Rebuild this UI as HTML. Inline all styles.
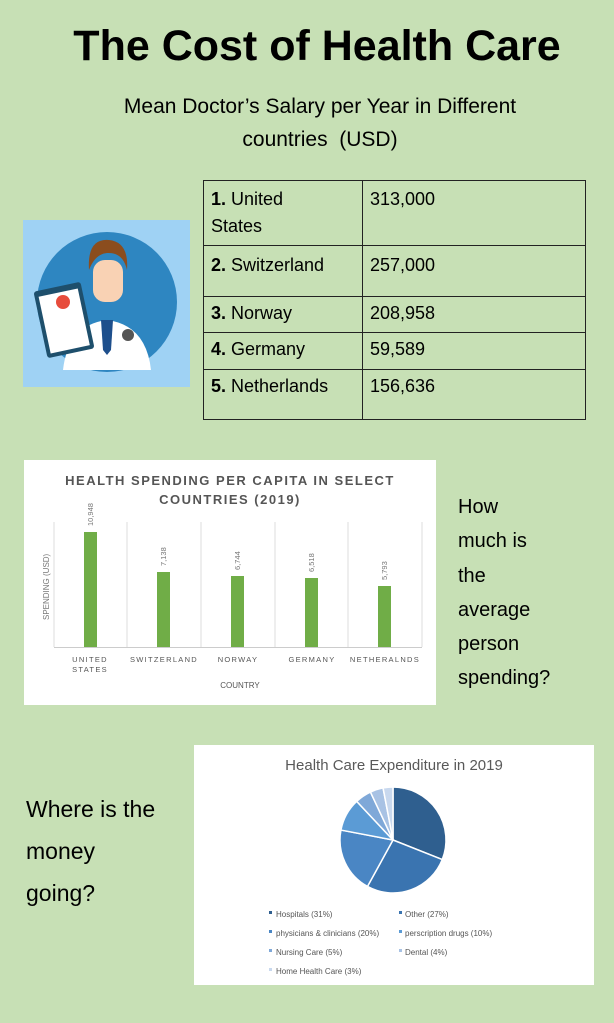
<!DOCTYPE html>
<html><head><meta charset="utf-8"><style>
body{margin:0;width:614px;height:1023px;background:#c7e0b5;position:relative;overflow:hidden;font-family:"Liberation Sans","DejaVu Sans",sans-serif;color:#000}
.abs{position:absolute}
table{border-collapse:collapse;table-layout:fixed}
td{border:1.3px solid #222;font-size:18px;vertical-align:top;padding:5px 7px;line-height:27px;overflow:hidden}
</style></head><body>
<div class="abs" style="left:0;width:634px;top:22px;text-align:center;font-size:43px;font-weight:bold;">The Cost of Health Care</div>
<div class="abs" style="left:70px;width:500px;top:90px;text-align:center;font-size:21px;line-height:33px">Mean Doctor’s Salary per Year in Different<br>countries&nbsp; (USD)</div>
<table class="abs" style="left:203px;top:180px;width:383px">
<col style="width:159px"><col>
<tr style="height:64px"><td><b>1.</b> United<br>States</td><td>313,000</td></tr>
<tr style="height:51px"><td style="padding-top:6px"><b>2.</b> Switzerland</td><td style="padding-top:6px">257,000</td></tr>
<tr style="height:36px"><td style="padding-top:3px"><b>3.</b> Norway</td><td style="padding-top:3px">208,958</td></tr>
<tr style="height:37px"><td style="padding-top:3px"><b>4.</b> Germany</td><td style="padding-top:3px">59,589</td></tr>
<tr style="height:50px"><td style="padding-top:3px"><b>5.</b> Netherlands</td><td style="padding-top:3px">156,636</td></tr>
</table>
<svg class="abs" style="left:23px;top:220px" width="167" height="167">
<rect width="167" height="167" fill="#9fd2f4"/>
<circle cx="84" cy="82" r="70" fill="#2e86c1"/>
<path d="M40 150 Q45 105 84 100 Q123 105 128 150 Z" fill="#fff"/>
<path d="M78 100 L90 100 L88 130 L84 135 L80 130 Z" fill="#1e4f8c"/>
<rect x="70" y="40" width="30" height="42" rx="12" fill="#f9d2b4"/>
<path d="M66 50 Q64 18 86 20 Q106 22 104 50 Q100 32 84 33 Q72 34 66 50 Z" fill="#8b4d1e"/>
<rect x="17" y="66" width="48" height="68" rx="3" fill="#1e4f6c" transform="rotate(-12 41 100)"/>
<rect x="21" y="72" width="40" height="58" fill="#fff" transform="rotate(-12 41 100)"/>
<circle cx="40" cy="82" r="7" fill="#e74c3c"/>
<circle cx="105" cy="115" r="6" fill="#555"/>
</svg>
<svg class="abs" style="left:24px;top:460px" width="412" height="245" font-family="Liberation Sans,sans-serif">
<rect width="412" height="245" fill="#fff"/>
<text x="206" y="25" text-anchor="middle" font-size="13" font-weight="bold" fill="#555" letter-spacing="1.5">HEALTH SPENDING PER CAPITA IN SELECT</text>
<text x="206" y="44" text-anchor="middle" font-size="13" font-weight="bold" fill="#555" letter-spacing="1.5">COUNTRIES (2019)</text>
<g stroke="#ddd" stroke-width="1">
<line x1="30" y1="62" x2="30" y2="187"/><line x1="103" y1="62" x2="103" y2="187"/><line x1="177" y1="62" x2="177" y2="187"/><line x1="251" y1="62" x2="251" y2="187"/><line x1="324" y1="62" x2="324" y2="187"/><line x1="398" y1="62" x2="398" y2="187"/>
<line x1="30" y1="187.5" x2="398" y2="187.5" stroke="#ccc"/></g>
<g fill="#70ad47">
<rect x="60" y="72" width="13" height="115"/><rect x="133" y="112" width="13" height="75"/><rect x="207" y="116" width="13" height="71"/><rect x="281" y="118" width="13" height="69"/><rect x="354" y="126" width="13" height="61"/></g>
<g font-size="7.5" fill="#777">
<text transform="translate(69,66) rotate(-90)">10,948</text>
<text transform="translate(142,106) rotate(-90)">7,138</text>
<text transform="translate(216,110) rotate(-90)">6,744</text>
<text transform="translate(290,112) rotate(-90)">6,518</text>
<text transform="translate(363,120) rotate(-90)">5,793</text>
<text transform="translate(25,160) rotate(-90)" font-size="8">SPENDING (USD)</text>
</g>
<g font-size="7.5" fill="#555" text-anchor="middle" letter-spacing="1.3">
<text x="66" y="202">UNITED</text><text x="66" y="212">STATES</text>
<text x="140" y="202">SWITZERLAND</text><text x="214" y="202">NORWAY</text><text x="288" y="202">GERMANY</text><text x="361" y="202">NETHERALNDS</text>
<text x="216" y="228" letter-spacing="0" font-size="8">COUNTRY</text></g>
</svg>
<div class="abs" style="left:458px;top:490px;font-size:20px;line-height:34.3px">How<br>much is<br>the<br>average<br>person<br>spending?</div>
<div class="abs" style="left:26px;top:788px;font-size:23px;line-height:42px">Where is the<br>money<br>going?</div>
<svg class="abs" style="left:194px;top:745px" width="400" height="240" font-family="Liberation Sans,sans-serif">
<rect width="400" height="240" fill="#fff"/>
<text x="200" y="25" text-anchor="middle" font-size="15" fill="#595959">Health Care Expenditure in 2019</text>
<g id="pie" stroke="#fff" stroke-width="1.5"></g>
<g font-size="8" fill="#555">
<rect x="75" y="166" width="3" height="3" fill="#2f5f8f"/><text x="82" y="172">Hospitals (31%)</text>
<rect x="205" y="166" width="3" height="3" fill="#3a74b0"/><text x="211" y="172">Other (27%)</text>
<rect x="75" y="185" width="3" height="3" fill="#4a86c4"/><text x="82" y="191">physicians &amp; clinicians (20%)</text>
<rect x="205" y="185" width="3" height="3" fill="#5b9bd5"/><text x="211" y="191">perscription drugs (10%)</text>
<rect x="75" y="204" width="3" height="3" fill="#7fa8d8"/><text x="82" y="210">Nursing Care (5%)</text>
<rect x="205" y="204" width="3" height="3" fill="#a8c2e4"/><text x="211" y="210">Dental (4%)</text>
<rect x="75" y="223" width="3" height="3" fill="#c8d8ee"/><text x="82" y="229">Home Health Care (3%)</text>
</g>
</svg>
<script>
(function(){var d=[31,27,20,10,5,4,3],c=["#2f5f8f","#3a74b0","#4a86c4","#5b9bd5","#7fa8d8","#a8c2e4","#c8d8ee"];
var cx=199,cy=95,r=53,a=0,g=document.getElementById("pie"),s="";
for(var i=0;i<d.length;i++){var b=a+d[i]/100*2*Math.PI;
var x1=cx+r*Math.sin(a),y1=cy-r*Math.cos(a),x2=cx+r*Math.sin(b),y2=cy-r*Math.cos(b);
s+='<path fill="'+c[i]+'" d="M'+cx+' '+cy+' L'+x1+' '+y1+' A'+r+' '+r+' 0 '+(b-a>Math.PI?1:0)+' 1 '+x2+' '+y2+' Z"/>';a=b;}
g.innerHTML=s;})();
</script>
</body></html>
